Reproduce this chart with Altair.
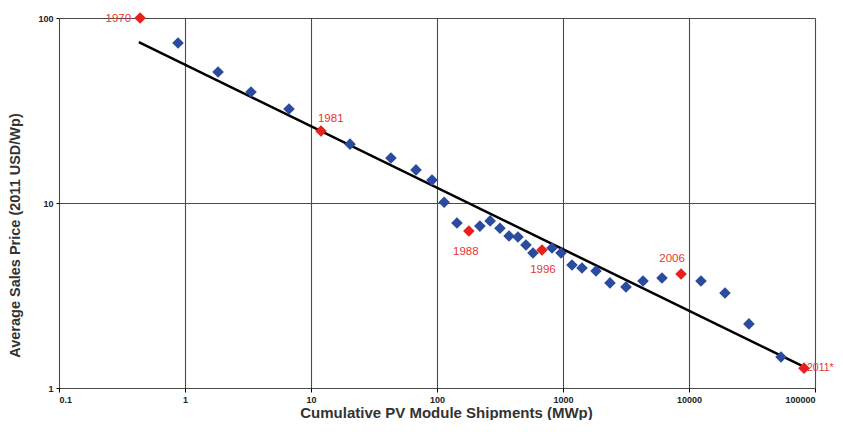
import altair as alt
import pandas as pd

# Blue (annual) points
blue_x = [0.88, 1.83, 3.34, 6.69, 20.4, 43.1, 68.1, 91.3, 114, 144, 219, 264, 316, 373, 439,
          508, 578, 818, 964, 1178, 1415, 1827, 2360, 3162, 4315, 6105, 12450, 19300, 29900, 53700]
blue_y = [73.2, 51.1, 39.8, 32.2, 20.8, 17.5, 15.1, 13.3, 10.1, 7.8, 7.5, 8.0, 7.3, 6.63, 6.55,
          5.93, 5.37, 5.71, 5.37, 4.62, 4.45, 4.29, 3.70, 3.52, 3.79, 3.93, 3.79, 3.26, 2.22, 1.47]

# Highlighted (red) years
red_years = ["1970", "1981", "1988", "1996", "2006", "2011*"]
red_x = [0.44, 12.0, 179, 681, 8650, 81800]
red_y = [100, 24.5, 7.06, 5.57, 4.13, 1.28]

# Trend line end points
trend_x = [0.43, 82000]
trend_y = [74, 1.3]

x_ticks = [0.1, 1, 10, 100, 1000, 10000, 100000]
y_ticks = [1, 10, 100]

blue_df = pd.DataFrame({"x": blue_x, "y": blue_y})
red_df = pd.DataFrame({"x": red_x, "y": red_y, "year": red_years})
trend_df = pd.DataFrame({"x": trend_x, "y": trend_y})

x_enc = alt.X(
    "x:Q",
    scale=alt.Scale(type="log", domain=[0.1, 100000]),
    axis=alt.Axis(
        values=x_ticks,
        labelExpr="datum.value < 1 ? '0.1' : format(datum.value, 'd')",
        title="Cumulative PV Module Shipments (MWp)",
        grid=True,
        gridColor="#4a4a4a",
        gridWidth=1.1,
        domain=False,
        tickColor="black",
        tickSize=4,
        labelPadding=3,
        labelFont="Liberation Sans",
        labelFontWeight="bold",
        labelFontSize=9,
        labelColor="#222222",
        titleFont="Liberation Sans",
        titleFontWeight="bold",
        titleFontSize=15,
        titleColor="#333333",
        titleX=387,
        titleY=29,
        titleAlign="center",
        titleBaseline="alphabetic",
    ),
)
y_enc = alt.Y(
    "y:Q",
    scale=alt.Scale(type="log", domain=[1, 100]),
    axis=alt.Axis(
        values=y_ticks,
        format="d",
        title="Average Sales Price (2011 USD/Wp)",
        grid=True,
        gridColor="#4a4a4a",
        gridWidth=1.1,
        domain=False,
        tickColor="black",
        tickSize=3,
        labelPadding=3,
        labelFont="Liberation Sans",
        labelFontWeight="bold",
        labelFontSize=9,
        labelColor="#222222",
        titleFont="Liberation Sans",
        titleFontWeight="bold",
        titleFontSize=14.5,
        titleColor="#333333",
        titleX=-44,
        titleY=217,
        titleAngle=270,
        titleAlign="center",
        titleBaseline="middle",
    ),
)

blue = alt.Chart(blue_df).mark_point(
    shape="diamond", filled=True, size=135, color="#2a4b9e", opacity=1
).encode(x=x_enc, y=y_enc)

trend = alt.Chart(trend_df).mark_line(color="black", strokeWidth=2.5).encode(x=x_enc, y=y_enc)

red = alt.Chart(red_df).mark_point(
    shape="diamond", filled=True, size=135, color="#e8201c", opacity=1
).encode(x=x_enc, y=y_enc)

label_style = {
    "1970": dict(align="right", dx=-9, dy=1, fontSize=11.5),
    "1981": dict(align="left", dx=-3, dy=-12, fontSize=11.5),
    "1988": dict(align="center", dx=-3, dy=21, fontSize=11.5),
    "1996": dict(align="center", dx=1, dy=20, fontSize=11.5),
    "2006": dict(align="center", dx=-9, dy=-15, fontSize=11.5),
    "2011*": dict(align="left", dx=3, dy=0, fontSize=10.5),
}
labels = []
for yr, st in label_style.items():
    labels.append(
        alt.Chart(red_df).transform_filter(alt.datum.year == yr).mark_text(
            font="Liberation Sans", color="#e5372f", baseline="middle", **st
        ).encode(x=x_enc, y=y_enc, text="year:N")
    )

chart = alt.layer(trend, blue, red, *labels).properties(
    width=756,
    height=370,
    autosize=alt.AutoSizeParams(type="none"),
    padding={"left": 51, "top": 10, "right": 20, "bottom": 32},
).configure_view(stroke="black", strokeWidth=3).configure(background="white")

chart.save("out.html", embed_options={"renderer": "svg", "actions": False})
